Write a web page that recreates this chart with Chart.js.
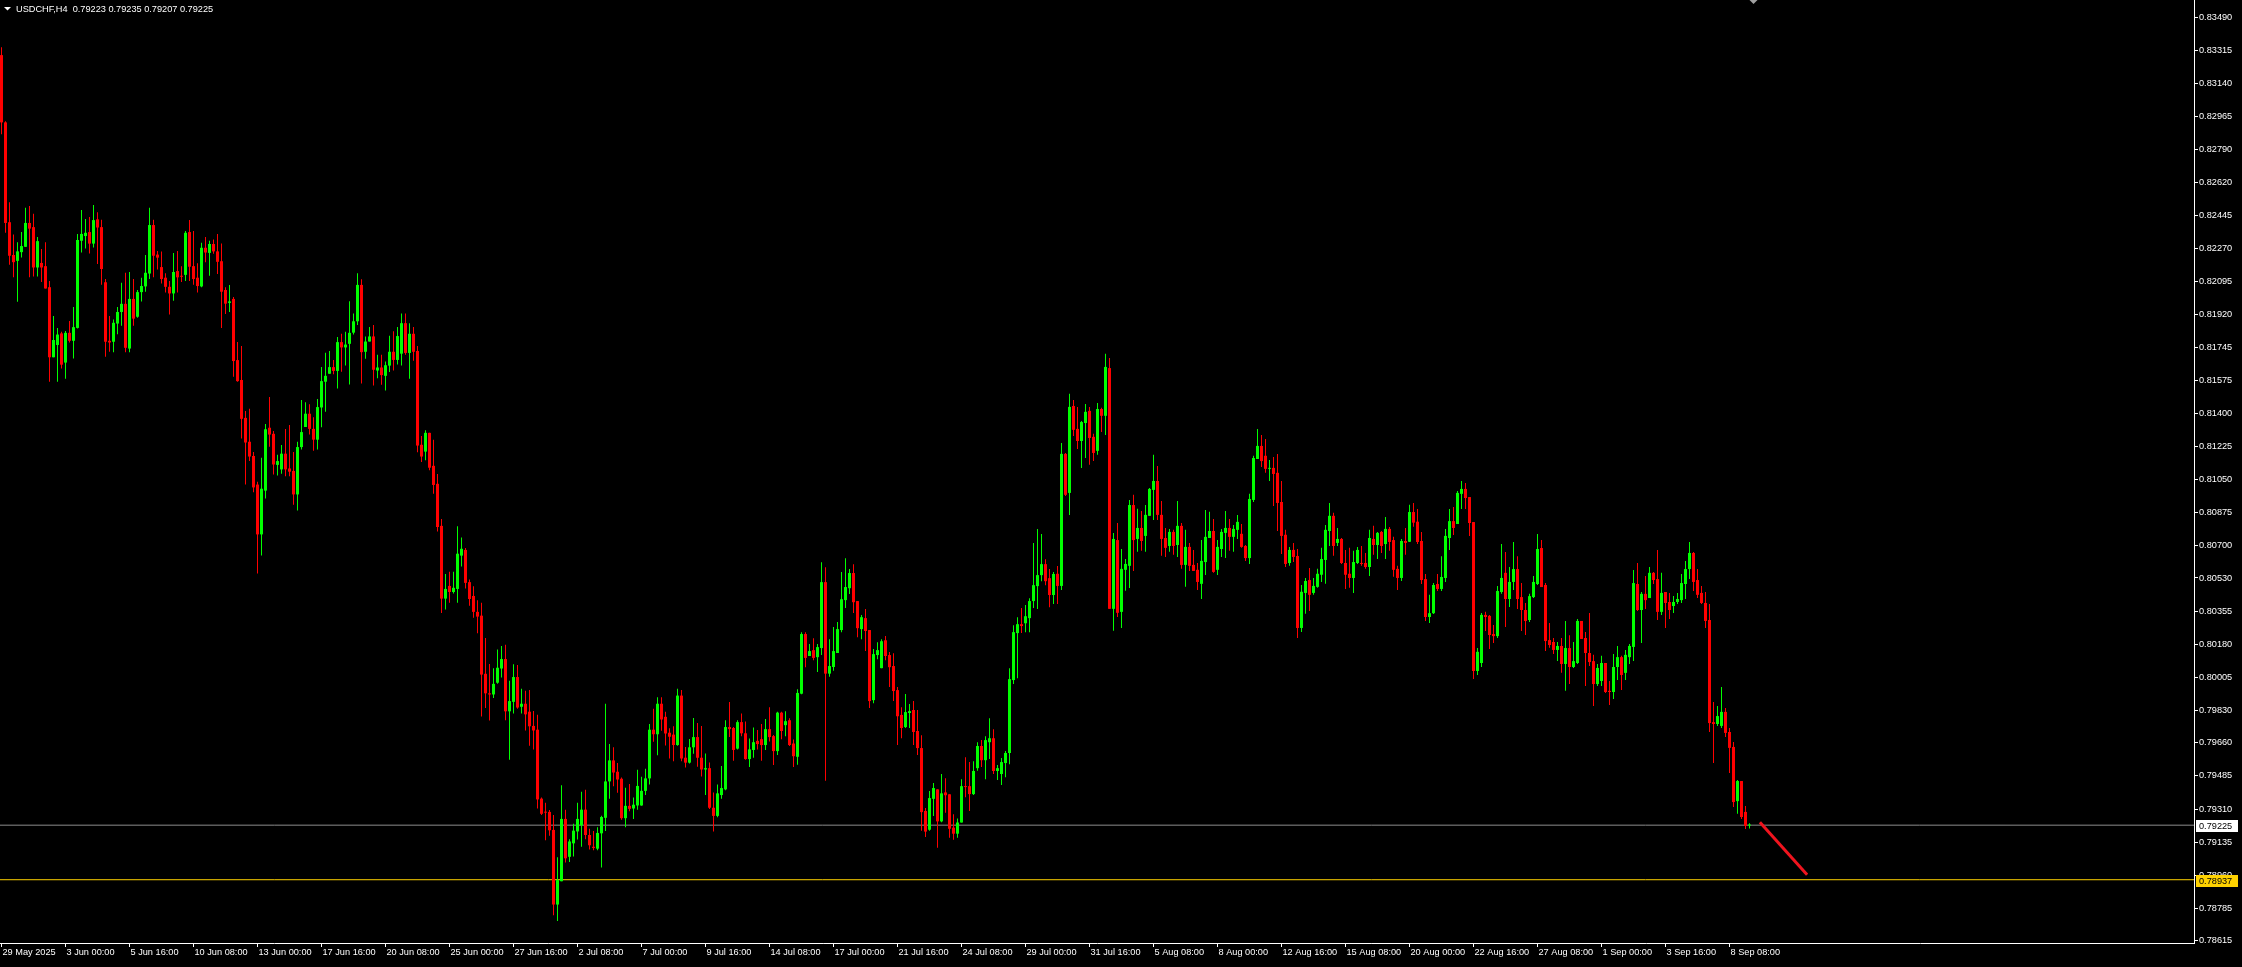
<!DOCTYPE html>
<html><head><meta charset="utf-8">
<script src="https://cdn.jsdelivr.net/npm/chart.js@4.4.1/dist/chart.umd.min.js"></script>
<style>html,body{margin:0;padding:0;background:#000;overflow:hidden}canvas{display:block}</style>
</head><body>
<canvas id="c" width="2242" height="967"></canvas>
<script>
// ---- data (prices in points, /100000) ----
const symbolTitle = "USDCHF,H4";
const lastQuote = ["0.79223", "0.79235", "0.79207", "0.79225"];

const openPts = [
83290,82935,82408,82235,82204,82250,82278,82404,82382,82169,
82193,82176,82065,81695,81760,81821,81667,81824,81782,81850,
82310,82335,82356,82295,82423,82382,82091,81782,81777,81873,
81934,81977,81741,82003,81909,82039,82069,82137,82393,82237,
82171,82115,82067,82032,82150,82124,82130,82356,82176,82115,
82069,82273,82246,82293,82254,82202,82050,81982,82003,81680,
81575,81375,81249,81174,81023,80760,80991,81323,81291,81127,
81103,81186,81108,81095,80971,81221,81327,81397,81317,81260,
81430,81566,81608,81643,81623,81775,81747,81766,81825,81885,
82077,81724,81778,81805,81625,81641,81597,81651,81724,81681,
81714,81875,81718,81819,81728,81233,81197,81296,81122,81027,
80805,80421,80488,80456,80472,80648,80678,80508,80435,80351,
80331,80024,79921,79915,79977,80052,80102,79826,79876,80007,
79850,79866,79824,79749,79729,79365,79295,79295,79200,78806,
78929,79258,79058,79129,79192,79224,79307,79173,79111,79101,
79182,79264,79456,79567,79507,79470,79262,79327,79313,79329,
79329,79406,79472,79729,79705,79866,79797,79713,79703,79648,
79909,79581,79555,79636,79690,79581,79519,79526,79317,79274,
79384,79414,79743,79738,79629,79769,79710,79574,79622,79670,
79679,79648,79732,79695,79616,79819,79753,79779,79656,79586,
79919,80234,80118,80149,80112,80160,80508,80025,80060,80134,
80255,80413,80476,80556,80408,80260,80318,80255,79885,80123,
80054,80201,80123,80065,79938,79807,79743,79817,79833,79722,
79632,79300,79201,79364,79414,79245,79398,79388,79212,79180,
79239,79431,79431,79389,79526,79643,79568,79663,79684,79511,
79495,79553,79606,79991,80239,80286,80291,80318,80408,80487,
80545,80603,80529,80440,80552,80488,81185,80979,81438,81317,
81253,81348,81412,81275,81201,81422,81386,81638,80367,80730,
80351,80573,80594,80915,80736,80794,80752,80858,80995,81042,
80863,80741,80699,80773,80704,80805,80599,80694,80599,80573,
80499,80614,80741,80778,80573,80683,80768,80794,80747,80784,
80763,80699,80635,80942,81158,81227,81175,81106,81111,81085,
80931,80758,80609,80678,80646,80266,80451,80519,80451,80483,
80547,80625,80778,80858,80715,80736,80609,80552,80530,80609,
80609,80609,80588,80736,80704,80773,80709,80789,80730,80578,
80530,80725,80721,80878,80827,80725,80524,80324,80344,80498,
80472,80530,80741,80830,80815,80974,81000,80957,80825,80039,
80081,80335,80330,80234,80223,80456,80557,80419,80509,80577,
80429,80361,80308,80429,80498,80688,80493,80202,80192,80150,
80171,80076,80160,80060,80081,80303,80213,80134,80091,79970,
79986,80081,79934,79928,80060,80112,80029,80112,80166,80498,
80361,80446,80424,80557,80524,80351,80456,80403,80382,80403,
80413,80498,80577,80662,80519,80451,80398,80308,79769,79759,
79749,79823,79717,79638,79352,79458,79295,79223
];
const highPts = [
83331,82941,82513,82343,82302,82356,82484,82493,82452,82330,
82267,82302,82097,81913,81850,81830,81834,81886,81960,82346,
82472,82425,82435,82499,82461,82421,82108,81913,81895,81960,
82088,82141,82145,82108,82050,82115,82235,82484,82421,82256,
82254,82139,82097,82246,82256,82176,82361,82419,82361,82191,
82299,82330,82310,82317,82346,82295,82065,82076,82013,81775,
81754,81412,81423,81195,81038,81165,81343,81485,81306,81180,
81232,81317,81338,81195,81249,81469,81458,81447,81379,81475,
81643,81719,81728,81680,81802,81819,81830,81991,81926,82138,
82107,81805,81855,81865,81708,81708,81673,81809,81833,81855,
81926,81926,81875,81855,81754,81280,81310,81296,81259,81079,
80841,80551,80563,80563,80803,80744,80688,80522,80486,80413,
80399,80213,80076,80054,80153,80171,80177,79987,80074,80070,
79945,79935,79939,79828,79808,79371,79343,79305,79279,79056,
79436,79307,79151,79232,79343,79402,79412,79206,79194,79214,
79275,79866,79654,79636,79553,79476,79422,79442,79371,79517,
79480,79523,79759,79840,79900,79900,79824,79737,79747,79945,
79939,79638,79680,79791,79765,79749,79604,79556,79398,79440,
79537,79779,79875,79743,79779,79815,79772,79683,79741,79727,
79759,79785,79848,79701,79824,79824,79827,79790,79677,79943,
80244,80244,80181,80212,80181,80613,80587,80207,80271,80297,
80561,80634,80577,80603,80408,80334,80366,80255,80155,80191,
80207,80223,80139,80132,79954,79848,79917,79864,79880,79833,
79700,79315,79405,79447,79414,79495,79473,79388,79282,79260,
79468,79584,79558,79563,79663,79674,79695,79790,79732,79542,
79579,79616,80054,80281,80323,80371,80387,80423,80714,80788,
80762,80629,80577,80561,80593,81243,81190,81502,81469,81433,
81358,81448,81433,81291,81454,81428,81713,81691,80768,80820,
80683,80630,80942,80969,80895,80884,80915,81005,81180,81121,
80936,80794,80789,80784,80936,80820,80784,80715,80678,80609,
80730,80889,80879,80841,80730,80789,80884,80841,80810,80863,
80815,80704,80974,81175,81317,81285,81263,81153,81168,81185,
81042,80784,80694,80715,80683,80493,80530,80583,80530,80578,
80689,80810,80926,80874,80794,80741,80678,80689,80673,80694,
80699,80662,80784,80805,80773,80778,80852,80799,80747,80594,
80736,80794,80917,80926,80894,80773,80551,80441,80503,80551,
80645,80789,80894,80905,80989,81042,81031,80957,80825,80160,
80345,80351,80335,80282,80488,80709,80667,80588,80720,80645,
80503,80398,80446,80541,80762,80730,80503,80292,80213,80192,
80213,80303,80228,80192,80313,80303,80245,80345,80124,80076,
80119,80081,79986,80129,80171,80119,80150,80181,80572,80609,
80456,80541,80588,80562,80678,80557,80456,80451,80435,80451,
80551,80619,80720,80667,80577,80488,80456,80393,79875,79854,
79955,79844,79738,79664,79463,79458,79326,79235
];
const lowPts = [
82872,82352,82184,82117,81988,82222,82278,82117,82122,82122,
82093,82058,81566,81695,81566,81636,81582,81773,81688,81847,
82248,82269,82243,82274,82188,82078,81698,81724,81721,81817,
81862,81721,81721,81862,81903,81990,82041,82108,82118,82158,
82084,82037,81921,81993,82037,82093,82097,82097,82078,82037,
82065,82197,82126,82241,82135,81849,81924,81934,81592,81566,
81266,81023,81147,80982,80554,80649,80949,81223,81076,81071,
81080,81067,81067,80916,80886,81208,81327,81287,81202,81208,
81325,81408,81608,81606,81530,81619,81651,81551,81815,81865,
81556,81687,81778,81546,81584,81550,81520,81617,81625,81657,
81651,81708,81582,81677,81193,81142,81152,81098,80975,80775,
80345,80363,80399,80448,80399,80591,80474,80383,80320,80238,
79799,79844,79777,79896,79971,80005,79779,79571,79814,79840,
79814,79725,79644,79624,79313,79279,79145,79169,78749,78719,
78929,79028,79030,79060,79149,79111,79151,79097,79093,79093,
79002,79194,79365,79430,79396,79254,79214,79299,79258,79307,
79327,79384,79440,79666,79594,79723,79646,79577,79563,79644,
79563,79529,79551,79602,79533,79482,79384,79311,79191,79267,
79364,79410,79691,79565,79625,79695,79571,79532,79581,79625,
79565,79622,79667,79542,79595,79679,79695,79643,79532,79544,
79916,80059,80118,80096,80033,80123,79459,80008,80040,80134,
80244,80371,80445,80345,80217,80207,80144,79843,79869,80101,
80054,80096,79954,79880,79648,79684,79738,79738,79648,79595,
79196,79163,79196,79274,79106,79240,79291,79158,79148,79158,
79239,79373,79300,79384,79512,79532,79468,79574,79495,79463,
79437,79478,79547,79970,80001,80239,80244,80244,80371,80366,
80513,80492,80376,80392,80393,80467,80963,80863,81280,81211,
81111,81163,81127,81147,81180,81301,81285,80367,80251,80324,
80266,80462,80477,80567,80668,80673,80668,80858,80836,80836,
80647,80641,80668,80652,80641,80578,80483,80567,80567,80467,
80419,80546,80741,80557,80546,80641,80635,80673,80668,80736,
80689,80620,80604,80931,81158,81116,81085,81042,80910,80778,
80657,80588,80594,80614,80213,80245,80341,80356,80441,80478,
80509,80499,80699,80647,80699,80604,80472,80478,80451,80604,
80594,80578,80541,80652,80630,80662,80630,80673,80536,80467,
80514,80652,80720,80801,80709,80498,80303,80292,80340,80461,
80461,80509,80678,80757,80815,80894,80894,80752,79996,80018,
80060,80250,80155,80187,80213,80446,80271,80377,80467,80366,
80250,80229,80297,80424,80493,80482,80145,80161,80129,80091,
80029,79934,79970,80055,80076,80208,79960,80065,79854,79960,
79960,79923,79859,79891,79991,79939,79991,80076,80091,80356,
80187,80366,80424,80498,80308,80335,80266,80313,80345,80393,
80398,80419,80524,80461,80424,80393,80266,79717,79553,79749,
79738,79690,79501,79321,79285,79257,79205,79207
];
const closePts = [
82935,82404,82231,82197,82254,82282,82404,82374,82169,82308,
82169,82058,81695,81786,81815,81656,81824,81782,81854,82314,
82346,82352,82295,82419,82380,82161,81777,81773,81877,81934,
81977,81745,82003,81899,82039,82071,82141,82393,82231,82221,
82108,82067,82032,82145,82117,82120,82352,82173,82108,82071,
82273,82248,82293,82254,82199,82041,81978,81990,81675,81569,
81370,81245,81171,81008,80760,81001,81315,81287,81129,81147,
81186,81103,81091,80971,81221,81300,81397,81317,81260,81432,
81569,81597,81643,81623,81775,81747,81762,81824,81885,82077,
81722,81778,81805,81629,81641,81601,81653,81724,81681,81807,
81875,81718,81819,81724,81229,81171,81296,81112,81021,80799,
80421,80472,80456,80478,80658,80684,80504,80419,80351,80326,
80020,79921,79915,79971,80056,80102,79826,79880,80007,79846,
79866,79810,79747,79725,79361,79285,79291,79198,78806,78935,
79258,79050,79139,79196,79258,79307,79173,79119,79105,79184,
79268,79456,79567,79503,79466,79262,79327,79311,79333,79432,
79406,79472,79729,79705,79866,79783,79709,79692,79648,79909,
79577,79555,79636,79690,79581,79519,79526,79317,79274,79393,
79421,79743,79732,79622,79769,79710,79574,79625,79663,79653,
79648,79732,79690,79616,79819,79722,79774,79648,79589,79923,
80234,80108,80144,80108,80165,80508,80025,80065,80144,80260,
80418,80482,80556,80402,80265,80323,80250,79880,80128,80149,
80196,80118,80059,79933,79800,79738,79822,79827,79717,79632,
79294,79191,79368,79421,79245,79393,79383,79206,79180,79239,
79431,79426,79389,79511,79643,79568,79674,79684,79511,79526,
79558,79606,79996,80244,80286,80276,80328,80408,80492,80545,
80603,80513,80440,80551,80488,81185,80969,81433,81312,81253,
81353,81407,81269,81190,81422,81386,81644,80367,80736,80346,
80578,80604,80915,80730,80794,80725,80863,81000,81042,80863,
80736,80689,80773,80699,80805,80599,80694,80594,80567,80509,
80620,80747,80778,80562,80694,80773,80794,80747,80789,80826,
80694,80635,80947,81163,81227,81147,81106,81111,81079,80926,
80752,80604,80678,80641,80266,80457,80514,80441,80488,80552,
80630,80784,80858,80699,80736,80609,80547,80530,80614,80678,
80604,80588,80741,80704,80768,80699,80789,80720,80573,80530,
80725,80715,80878,80822,80720,80519,80324,80344,80493,80472,
80535,80752,80830,80794,80979,81000,80952,80820,80039,80140,
80335,80324,80229,80223,80461,80530,80419,80509,80577,80419,
80361,80303,80434,80509,80683,80482,80197,80176,80150,80171,
80076,80160,80060,80091,80303,80208,80134,80086,79970,80055,
80081,79928,79928,80060,80112,80018,80124,80171,80503,80361,
80446,80413,80557,80519,80351,80451,80398,80361,80403,80419,
80503,80577,80662,80509,80441,80398,80303,79764,79759,79801,
79823,79712,79633,79347,79458,79268,79221,79225
];

const priceTicks = [0.83490,0.83315,0.83140,0.82965,0.82790,0.82620,0.82445,0.82270,0.82095,0.81920,
  0.81745,0.81575,0.81400,0.81225,0.81050,0.80875,0.80700,0.80530,0.80355,0.80180,0.80005,
  0.79830,0.79660,0.79485,0.79310,0.79135,0.78960,0.78785,0.78615];
const timeTicks = ["29 May 2025","3 Jun 00:00","5 Jun 16:00","10 Jun 08:00","13 Jun 00:00","17 Jun 16:00",
  "20 Jun 08:00","25 Jun 00:00","27 Jun 16:00","2 Jul 08:00","7 Jul 00:00","9 Jul 16:00","14 Jul 08:00",
  "17 Jul 00:00","21 Jul 16:00","24 Jul 08:00","29 Jul 00:00","31 Jul 16:00","5 Aug 08:00","8 Aug 00:00",
  "12 Aug 16:00","15 Aug 08:00","20 Aug 00:00","22 Aug 16:00","27 Aug 08:00","1 Sep 00:00","3 Sep 16:00","8 Sep 08:00"];
const barsPerTimeTick = 16;
const bidPrice = 0.79225;
const levelPrice = 0.78937;
const trendBars = [439.6, 451.4];
const trendPrices = [0.79240, 0.78963];
const shiftMarkerBar = 437.9;

// ---- build ----
const P = v => v / 100000;
const UP = '#00ff00', DOWN = '#ff0000';
const candleColor = closePts.map((c, i) => c >= openPts[i] ? UP : DOWN);
const wickData = closePts.map((c, i) => ({x: i, y: [P(lowPts[i]), P(highPts[i])]}));
const bodyData = closePts.map((c, i) => ({x: i, y: [P(openPts[i]), P(c)]}));
const X_MIN = -0.375, X_MAX = 548.125;
const FSIZE = 9.2;
const FONT = {family: 'Liberation Sans', size: FSIZE};

const overlay = {
  id: 'overlay',
  beforeDraw(chart) {
    const ctx = chart.ctx;
    ctx.save(); ctx.fillStyle = '#000'; ctx.fillRect(0, 0, chart.width, chart.height); ctx.restore();
  },
  afterDraw(chart) {
    const ctx = chart.ctx, ys = chart.scales.y, xs = chart.scales.x;
    ctx.save();
    ctx.font = FSIZE + 'px "Liberation Sans"';
    ctx.textBaseline = 'middle';
    const box = (price, bg) => {
      const py = Math.round(ys.getPixelForValue(price));
      ctx.fillStyle = bg;
      ctx.fillRect(ys.left + 2, py - 5, 42, 12);
      ctx.fillStyle = '#000';
      ctx.fillText(price.toFixed(5), ys.left + 5, py + 1);
    };
    box(bidPrice, '#ffffff');
    box(levelPrice, '#ffd200');
    // shift marker
    const sx = Math.round(xs.getPixelForValue(shiftMarkerBar)) + 0.5;
    ctx.fillStyle = '#a0a0a0';
    ctx.beginPath(); ctx.moveTo(sx - 4, 0); ctx.lineTo(sx + 4, 0); ctx.lineTo(sx, 4); ctx.closePath(); ctx.fill();
    // title
    ctx.fillStyle = '#ffffff';
    ctx.beginPath(); ctx.moveTo(4, 7); ctx.lineTo(11, 7); ctx.lineTo(7.5, 10.5); ctx.closePath(); ctx.fill();
    ctx.textBaseline = 'alphabetic';
    ctx.fillText(symbolTitle + '  ' + lastQuote.join(' '), 16, 12);
    ctx.restore();
  }
};

new Chart(document.getElementById('c'), {
  type: 'bar',
  data: {
    datasets: [
      {type: 'bar', data: bodyData, backgroundColor: candleColor, barThickness: 3, grouped: false,
       minBarLength: 1, inflateAmount: 0, borderWidth: 0, order: 0},
      {type: 'bar', data: wickData, backgroundColor: candleColor, barThickness: 1, grouped: false,
       minBarLength: 1, inflateAmount: 0, borderWidth: 0, order: 1},
      {type: 'line', data: [{x: X_MIN, y: bidPrice}, {x: X_MAX, y: bidPrice}], borderColor: '#8c8c8c',
       borderWidth: 1, pointRadius: 0, fill: false, order: 3},
      {type: 'line', data: [{x: X_MIN, y: levelPrice}, {x: X_MAX, y: levelPrice}], borderColor: '#ffd200',
       borderWidth: 1, pointRadius: 0, fill: false, order: 3},
      {type: 'line', data: trendBars.map((b, i) => ({x: b, y: trendPrices[i]})), borderColor: '#f0141e',
       borderWidth: 3, pointRadius: 0, fill: false, order: 2}
    ]
  },
  options: {
    responsive: false, devicePixelRatio: 1, animation: false, events: [],
    layout: {padding: 0},
    plugins: {legend: {display: false}, tooltip: {enabled: false}, title: {display: false}},
    scales: {
      x: {
        type: 'linear', position: 'bottom', min: X_MIN, max: X_MAX, offset: false, bounds: 'data',
        grid: {display: true, drawOnChartArea: false, drawTicks: true, tickLength: 4, color: '#ffffff', offset: false},
        border: {display: true, color: '#ffffff', width: 1},
        ticks: {color: '#ffffff', font: FONT, padding: 0, align: 'start', labelOffset: 1, maxRotation: 0, minRotation: 0,
                autoSkip: false, callback: (v) => timeTicks[Math.round(v / barsPerTimeTick)] ?? ''},
        afterBuildTicks: (s) => { s.ticks = timeTicks.map((t, k) => ({value: k * barsPerTimeTick})); },
        afterFit: (s) => { s.height = 24; s.paddingLeft = 0; s.paddingRight = 0; }
      },
      y: {
        type: 'linear', position: 'right', min: 0.78603, max: 0.83581, bounds: 'data', beginAtZero: false,
        grid: {display: true, drawOnChartArea: false, drawTicks: true, tickLength: 4, color: '#ffffff'},
        border: {display: true, color: '#ffffff', width: 1},
        ticks: {color: '#ffffff', font: FONT, padding: 1, callback: (v) => Number(v).toFixed(5)},
        afterBuildTicks: (s) => { s.ticks = priceTicks.map(v => ({value: v})); },
        afterFit: (s) => { s.width = 48; s.paddingTop = 0; s.paddingBottom = 0; }
      }
    }
  },
  plugins: [overlay]
});
</script>
</body></html>
